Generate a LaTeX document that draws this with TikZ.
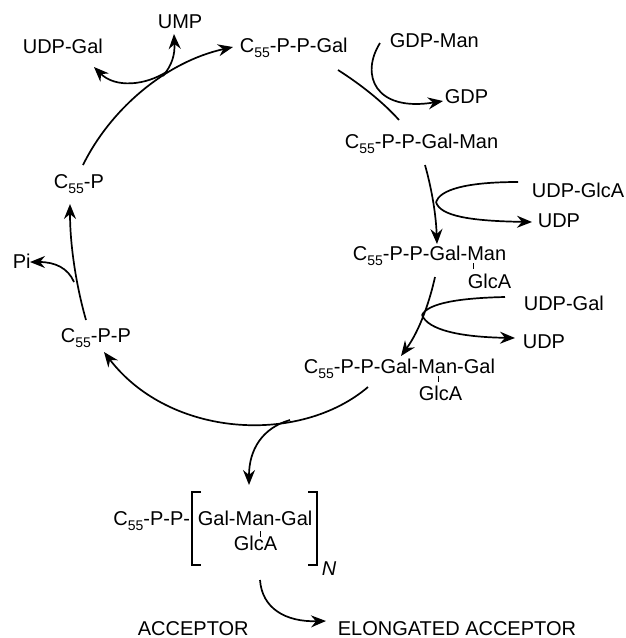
\documentclass[tikz,border=0pt]{standalone}
\usepackage{fontspec}
\setmainfont{Liberation Sans}
\usetikzlibrary{arrows.meta}
\newcommand\Cff{C\raisebox{-5pt}{\fontsize{14}{14}\selectfont 55}}
\begin{document}
\begin{tikzpicture}[x=1pt,y=-1pt,
  font=\fontsize{20}{24}\selectfont,
  line width=1.7pt,
  lbl/.style={inner sep=0pt,anchor=base west},
  lble/.style={inner sep=0pt,anchor=base east},
  arr/.style={-{Stealth[length=15pt,width=12pt,inset=5pt]}},
  tick/.style={line width=1pt},
  brk/.style={line width=1.6pt}]
\useasboundingbox (0,0) rectangle (626,638);
% labels
\node[lbl] (ump) at (157,28) {UMP};
\node[lbl] (udpgalA) at (22,53) {UDP-Gal};
\node[lbl] (s1) at (239,52) {\Cff-P-P-Gal};
\node[lbl] (gdpman) at (389,47) {GDP-Man};
\node[lbl] (gdp) at (444,103) {GDP};
\node[lbl] (s2) at (344,148) {\Cff-P-P-Gal-Man};
\node[lble] (udpglca) at (625,197) {UDP-GlcA};
\node[lbl] (udpA) at (537,227) {UDP};
\node[lbl] (s3) at (352,260) {\Cff-P-P-Gal-Man};
\node[lbl] (glcaA) at (467,288) {GlcA};
\node[lbl] (udpgalB) at (523,310) {UDP-Gal};
\node[lbl] (udpB) at (522,348) {UDP};
\node[lbl] (s4) at (303,373) {\Cff-P-P-Gal-Man-Gal};
\node[lbl] (glcaB) at (418,400) {GlcA};
\node[lbl] (s5) at (60,342) {\Cff-P-P};
\node[lbl] (pi) at (12,268) {Pi};
\node[lbl] (s0) at (53,188) {\Cff-P};
\node[lble] (poly) at (191,525) {\Cff-P-P-};
\node[lbl] (gmg) at (197,525) {Gal-Man-Gal};
\node[lbl] (glcaC) at (233,550) {GlcA};
\node[lbl] (nn) at (321,575) {\itshape N};
\node[lbl] (acc) at (137,635) {ACCEPTOR};
\node[lbl] (elong) at (337,635) {ELONGATED ACCEPTOR};
% coordinates
\coordinate (a1s) at (83,165);
\coordinate (a1e) at (233,47);
\coordinate (bUg) at (168,71);
\coordinate (tUg) at (94,67);
\coordinate (bUmp) at (163,76);
\coordinate (tUmp) at (174,34);
\coordinate (a2s) at (338,70);
\coordinate (a2e) at (399,120);
\coordinate (gms) at (380,43);
\coordinate (gmt) at (443,101);
\coordinate (a3s) at (425,165);
\coordinate (a3e) at (437,244);
\coordinate (glcs) at (518,182);
\coordinate (j3) at (436,202);
\coordinate (udpAt) at (532,222);
\coordinate (a4s) at (435,277);
\coordinate (a4e) at (401,356);
\coordinate (ugs) at (505,297);
\coordinate (j4) at (422,315);
\coordinate (udpBt) at (515,338);
\coordinate (a5s) at (368,387);
\coordinate (a5e) at (104,352);
\coordinate (bdown) at (290,420);
\coordinate (tdown) at (249,485);
\coordinate (a6s) at (86,320);
\coordinate (a6e) at (70,204);
\coordinate (bpi) at (74,282);
\coordinate (tpi) at (30,262);
\coordinate (a7s) at (260,580);
\coordinate (a7e) at (326,621);
% cycle arcs
\draw[arr] (a1s) .. controls (110,110) and (165,62) .. (a1e);
\draw[arr] (bUg) .. controls (145,86) and (115,88) .. (tUg);
\draw[arr] (bUmp) .. controls (172,65) and (175,55) .. (tUmp);
\draw (a2s) .. controls (360,84) and (383,102) .. (a2e);
\draw[arr] (gms) .. controls (360,75) and (375,112) .. (gmt);
\draw[arr] (a3s) .. controls (432,190) and (436,215) .. (a3e);
\draw (glcs) .. controls (465,182) and (440,190) .. (j3);
\draw[arr] (j3) .. controls (440,216) and (470,221) .. (udpAt);
\draw[arr] (a4s) .. controls (430,300) and (420,330) .. (a4e);
\draw (ugs) .. controls (460,298) and (428,303) .. (j4);
\draw[arr] (j4) .. controls (428,330) and (460,337) .. (udpBt);
\draw[arr] (a5s) .. controls (300,445) and (170,438) .. (a5e);
\draw[arr] (bdown) .. controls (262,428) and (249,450) .. (tdown);
\draw[arr] (a6s) .. controls (76,285) and (70,245) .. (a6e);
\draw[arr] (bpi) .. controls (68,268) and (55,262) .. (tpi);
\draw[arr] (a7s) .. controls (262,608) and (285,622) .. (a7e);
% ticks
\draw[tick] (473,263) -- (473,269);
\draw[tick] (438,376) -- (438,382);
\draw[tick] (260,531) -- (260,537);
% brackets
\draw[brk] (201,492) -- (192,492) -- (192,565) -- (201,565);
\draw[brk] (308,492) -- (317,492) -- (317,565) -- (308,565);
\end{tikzpicture}
\end{document}
